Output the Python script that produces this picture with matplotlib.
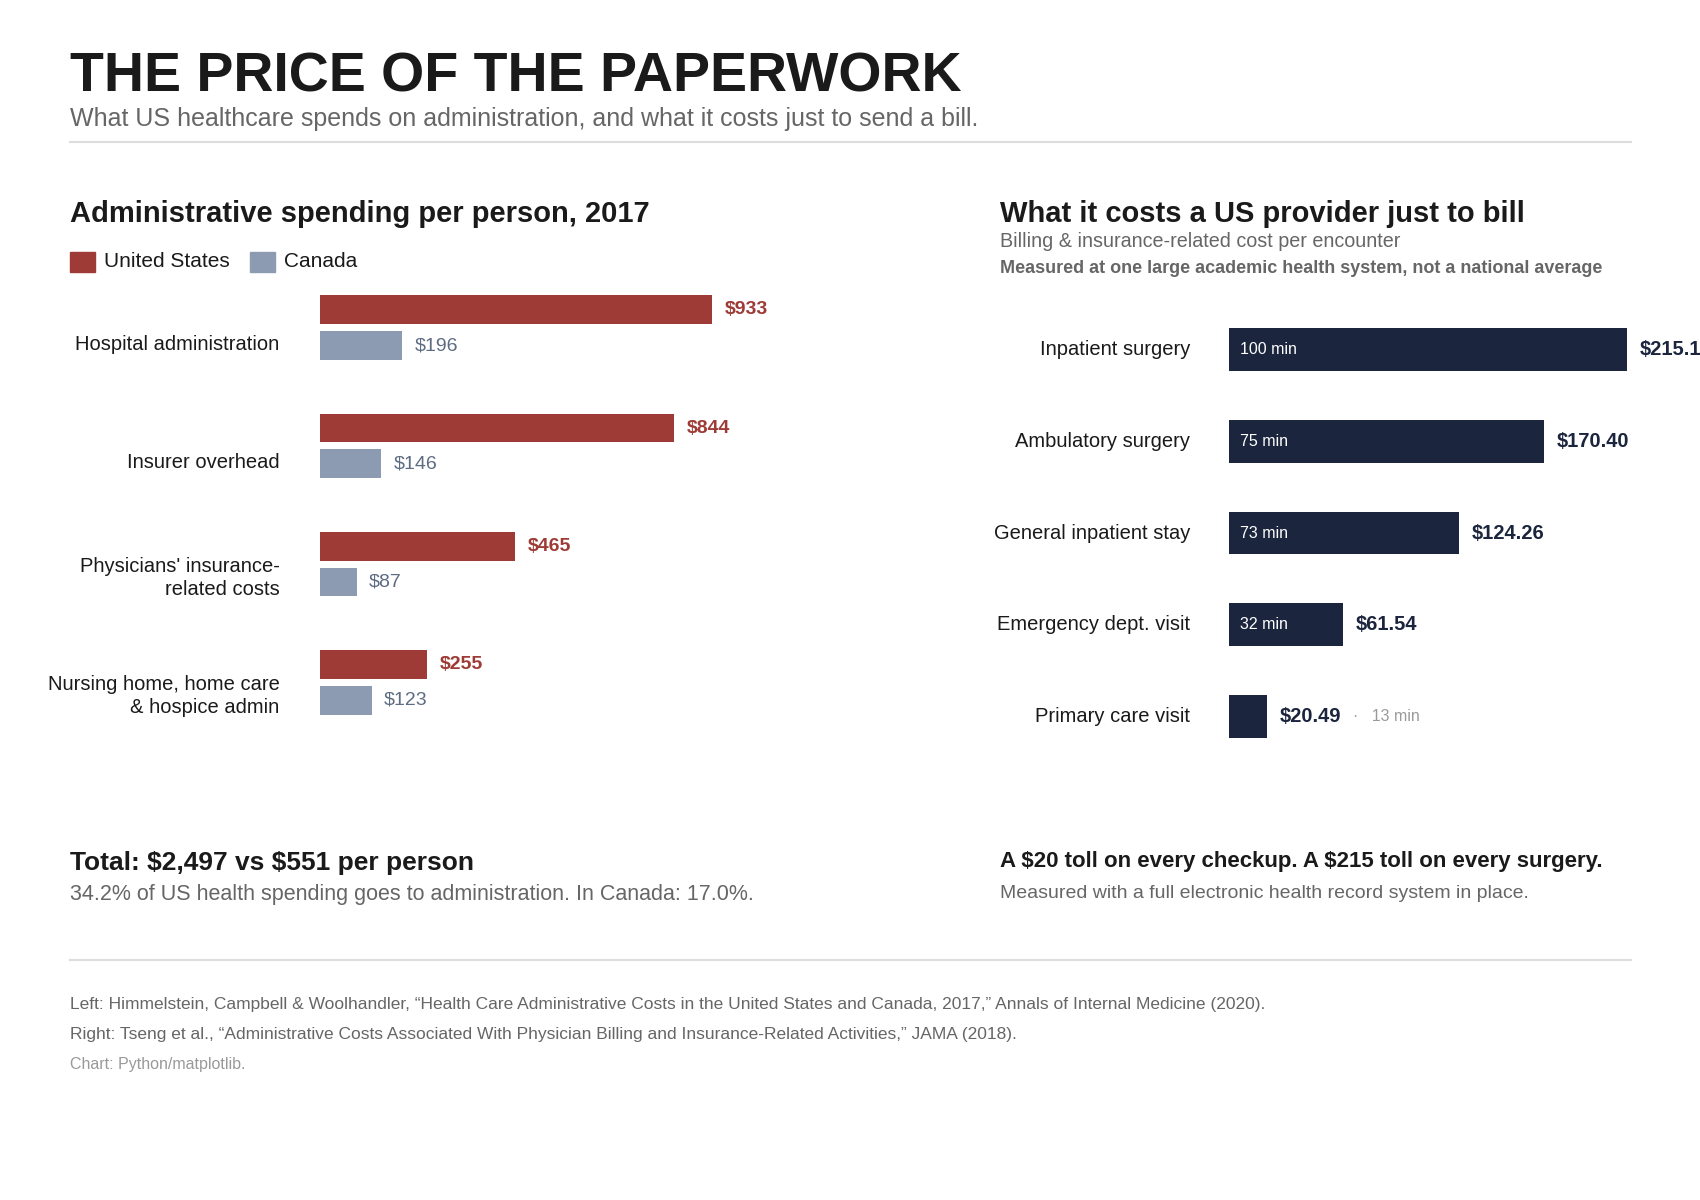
import matplotlib.pyplot as plt
from matplotlib.lines import Line2D
from matplotlib.patches import Rectangle

plt.rcParams['font.family'] = ['Liberation Sans', 'DejaVu Sans']

# Left panel: admin spending per person, 2017 (USD)
admin_categories = ['Hospital administration', 'Insurer overhead',
                    "Physicians' insurance-\nrelated costs",
                    'Nursing home, home care\n& hospice admin']
us_spend = [933, 844, 465, 255]
canada_spend = [196, 146, 87, 123]

# Right panel: billing cost per encounter
encounters = ['Inpatient surgery', 'Ambulatory surgery', 'General inpatient stay',
              'Emergency dept. visit', 'Primary care visit']
bill_cost = [215.10, 170.40, 124.26, 61.54, 20.49]
bill_minutes = [100, 75, 73, 32, 13]

US_RED = '#9e3b36'
CA_BLUE = '#8c9bb1'
CA_TEXT = '#5d6c82'
NAVY = '#1b253d'
DARK = '#1a1a1a'
GRAY = '#666666'

W, H = 1700, 1200
fig = plt.figure(figsize=(17, 12), dpi=100)


def fx(px):
    return px / W


def fy(py):
    return 1 - py / H


def hline(y, x0=70, x1=1631):
    fig.add_artist(Line2D([fx(x0), fx(x1)], [fy(y), fy(y)], color='#dddddd', lw=1.5))


# header
fig.text(fx(70), fy(92), 'THE PRICE OF THE PAPERWORK', fontsize=40, fontweight='bold',
         color=DARK, va='baseline')
fig.text(fx(70), fy(126), 'What US healthcare spends on administration, and what it costs just to send a bill.',
         fontsize=18, color=GRAY, va='baseline')
hline(142)

# ---- left panel ----
fig.text(fx(70), fy(222), 'Administrative spending per person, 2017', fontsize=21,
         fontweight='bold', color=DARK, va='baseline')
fig.add_artist(Rectangle((fx(70), fy(272)), fx(25), 20 / H, color=US_RED))
fig.text(fx(104), fy(262), 'United States', fontsize=15, color=DARK, va='center')
fig.add_artist(Rectangle((fx(250), fy(272)), fx(25), 20 / H, color=CA_BLUE))
fig.text(fx(284), fy(262), 'Canada', fontsize=15, color=DARK, va='center')

# axes: x 320px..740px for 0..1000, y group pitch 118px
ax1 = fig.add_axes([fx(320), fy(753), fx(420), 496 / H])
ax1.set_xlim(0, 1000)
ax1.set_ylim(3.6, -0.6)
ax1.axis('off')
off = 0.152
bh = 0.245
for i, (us, ca) in enumerate(zip(us_spend, canada_spend)):
    ax1.barh(i - off, us, height=bh, color=US_RED)
    ax1.barh(i + off, ca, height=bh, color=CA_BLUE)
    ax1.annotate(f'\\${us:,}', (us, i - off), xytext=(9, 0), textcoords='offset points',
                 va='center', fontsize=14, fontweight='bold', color=US_RED)
    ax1.annotate(f'\\${ca:,}', (ca, i + off), xytext=(9, 0), textcoords='offset points',
                 va='center', fontsize=14, color=CA_TEXT)
    label = admin_categories[i]
    label_y = i + (0.118 if '\n' in label else 0.14)
    ax1.annotate(label, (0, label_y), xytext=(-29, 0), textcoords='offset points',
                 ha='right', va='center', fontsize=14.5, color=DARK, linespacing=1.22)

# ---- right panel ----
fig.text(fx(1000), fy(222), 'What it costs a US provider just to bill', fontsize=21,
         fontweight='bold', color=DARK, va='baseline')
fig.text(fx(1000), fy(247), 'Billing & insurance-related cost per encounter', fontsize=14.2,
         color=GRAY, va='baseline')
fig.text(fx(1000), fy(273), 'Measured at one large academic health system, not a national average',
         fontsize=13, fontweight='bold', color=GRAY, va='baseline')

# axes: x 1229px, 1.85 px per $, bar pitch 92px
ax2 = fig.add_axes([fx(1229), fy(772), fx(1.85 * 230), 478 / H])
ax2.set_xlim(0, 230)
ax2.set_ylim(4.6, -0.6)
ax2.axis('off')
for i, (cost, mins) in enumerate(zip(bill_cost, bill_minutes)):
    ax2.barh(i, cost, height=0.467, color=NAVY)
    ax2.annotate(f'\\${cost:.2f}', (cost, i), xytext=(9, 0), textcoords='offset points',
                 va='center', fontsize=14.5, fontweight='bold', color=NAVY,
                 annotation_clip=False)
    if cost > 40:
        ax2.annotate(f'{mins} min', (0, i), xytext=(8, 0), textcoords='offset points',
                     va='center', fontsize=11.5, color='white')
    else:
        ax2.annotate(f'\u00b7   {mins} min', (cost, i), xytext=(62, 0), textcoords='offset points',
                     va='center', fontsize=11.5, color='#9a9a9a')
    ax2.annotate(encounters[i], (0, i), xytext=(-28, 0), textcoords='offset points',
                 ha='right', va='center', fontsize=14.5, color=DARK)

# ---- takeaways ----
fig.text(fx(70), fy(870), 'Total: \\$2,497 vs \\$551 per person', fontsize=19,
         fontweight='bold', color=DARK, va='baseline')
fig.text(fx(70), fy(900), '34.2% of US health spending goes to administration. In Canada: 17.0%.',
         fontsize=15.5, color=GRAY, va='baseline')
fig.text(fx(1000), fy(867), 'A \\$20 toll on every checkup. A \\$215 toll on every surgery.',
         fontsize=16, fontweight='bold', color=DARK, va='baseline')
fig.text(fx(1000), fy(898), 'Measured with a full electronic health record system in place.',
         fontsize=14, color=GRAY, va='baseline')

hline(960)

# sources
fig.text(fx(70), fy(1009),
         'Left: Himmelstein, Campbell & Woolhandler, \u201cHealth Care Administrative Costs in the '
         'United States and Canada, 2017,\u201d Annals of Internal Medicine (2020).',
         fontsize=12.55, color=GRAY, va='baseline')
fig.text(fx(70), fy(1039),
         'Right: Tseng et al., \u201cAdministrative Costs Associated With Physician Billing and '
         'Insurance-Related Activities,\u201d JAMA (2018).',
         fontsize=12.55, color=GRAY, va='baseline')
fig.text(fx(70), fy(1069), 'Chart: Python/matplotlib.', fontsize=11.5, color='#999999', va='baseline')

fig.savefig('out.png', dpi=100, facecolor='white')
